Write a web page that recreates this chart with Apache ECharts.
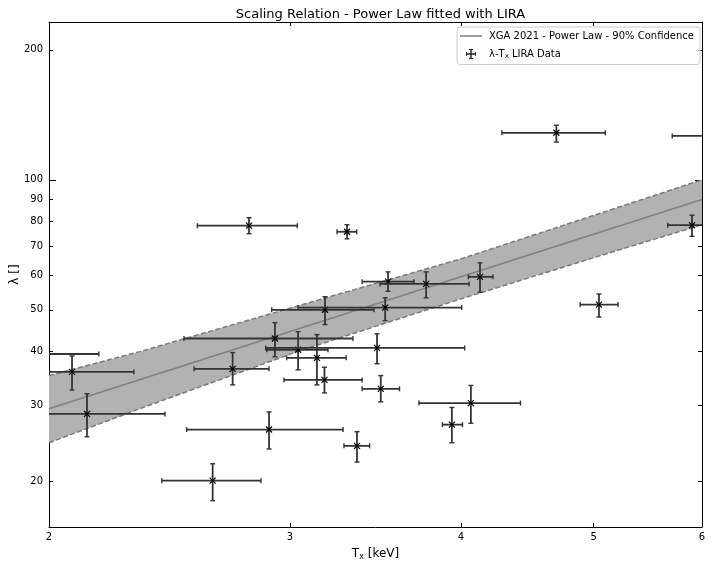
<!DOCTYPE html>
<html>
<head>
<meta charset="utf-8">
<script src="https://cdn.jsdelivr.net/npm/echarts/dist/echarts.min.js"></script>
<style>html,body{margin:0;padding:0;background:#fff}#c{width:712px;height:568px}</style>
</head>
<body>
<div id="c"></div>
<script>
// ---- data ----
const xTicks = [2, 3, 4, 5, 6];
const yTicks = [20, 30, 40, 50, 60, 70, 80, 90, 100, 200];
const yMajor = [100];

const fitX = [2, 6];
const fitY = [29.5, 90];

const bandX     = [2,    2.33, 3.05, 4.0,  5.14, 6];
const bandUpper = [35.2, 40.0, 51.2, 65.6, 85.1, 100];
const bandLower = [24.6, 29.5, 40.2, 53.0, 67.8, 78.7];

const ptX  = [2.079, 2.132, 1.90, 2.724, 2.634, 2.896, 2.925, 3.041, 3.139, 3.182, 3.179, 3.302, 2.80, 3.521, 3.538, 3.772, 4.13, 3.473, 3.495, 3.358, 3.939, 4.067, 5.045, 4.696, 6.2, 5.90];
const ptY  = [35.9, 28.7, 39.5, 36.5, 20.1, 26.4, 42.9, 40.4, 38.7, 50.0, 34.4, 75.8, 78.3, 50.6, 58.1, 57.4, 59.6, 40.8, 32.8, 24.2, 27.1, 30.4, 51.4, 128.5, 126.4, 78.5];
const xLo  = [1.85, 1.85, 1.62, 2.553, 2.418, 2.521, 2.51, 2.885, 2.983, 2.909, 2.97, 3.247, 2.567, 3.041, 3.387, 3.491, 4.05, 2.88, 3.387, 3.285, 3.877, 3.727, 4.888, 4.285, 5.707, 5.664];
const xHi  = [2.307, 2.431, 2.175, 2.896, 2.857, 3.28, 3.335, 3.198, 3.297, 3.455, 3.387, 3.356, 3.037, 4.005, 3.696, 4.055, 4.221, 4.025, 3.607, 3.43, 4.01, 4.421, 5.21, 5.099, 6.69, 6.14];
const yLo  = [32.6, 25.4, 36.0, 33.5, 18.07, 23.8, 38.9, 36.3, 33.5, 46.2, 32.1, 73.0, 75.0, 47.2, 55.2, 53.3, 54.9, 37.5, 30.6, 22.2, 24.6, 27.3, 48.1, 122.3, 120.0, 74.0];
const yHi  = [39.1, 31.96, 43.0, 39.8, 22.0, 29.0, 46.7, 44.5, 43.8, 53.6, 36.8, 78.7, 81.7, 53.3, 61.2, 61.2, 64.2, 44.0, 35.2, 26.1, 29.7, 33.4, 54.4, 133.8, 133.0, 82.8];

const fitName = 'XGA 2021 - Power Law - 90% Confidence';
const dataName = 'λ-Tx LIRA Data';

// ---- chart ----
const chart = echarts.init(document.getElementById('c'), null, {renderer: 'canvas'});
const FONT = 'DejaVu Sans';
const X_MIN = 2, X_MAX = 6, Y_MIN = 15.7, Y_MAX = 232;

function xAxisCfg(pos, labels) {
  return {
    type: 'log', logBase: 10, min: X_MIN, max: X_MAX, position: pos,
    axisLine: {show: true, onZero: false, lineStyle: {color: '#000', width: 1}},
    axisTick: {show: true, inside: true, length: 4, customValues: xTicks, lineStyle: {color: '#000', width: 1}},
    axisLabel: {show: labels, customValues: xTicks, color: '#000', fontSize: 10, fontFamily: FONT, margin: 5},
    splitLine: {show: false}, minorTick: {show: false}, minorSplitLine: {show: false}
  };
}
function yAxisCfg(pos, ticks, len, labels, line) {
  return {
    type: 'log', logBase: 10, min: Y_MIN, max: Y_MAX, position: pos,
    axisLine: {show: line, onZero: false, lineStyle: {color: '#000', width: 1}},
    axisTick: {show: true, inside: true, length: len, customValues: ticks, lineStyle: {color: '#000', width: 1}},
    axisLabel: {show: labels, customValues: ticks, color: '#000', fontSize: 10, fontFamily: FONT, margin: 6},
    splitLine: {show: false}, minorTick: {show: false}, minorSplitLine: {show: false}
  };
}

const xMain = xAxisCfg('bottom', true);
xMain.name = '{a|T}{s|x}{a| [keV]}';
xMain.nameLocation = 'middle';
xMain.nameGap = 20;
xMain.nameTextStyle = {color: '#000', fontSize: 12, fontFamily: FONT,
  rich: {a: {fontSize: 12, fontFamily: FONT, color: '#000'}, s: {fontSize: 8, fontFamily: FONT, color: '#000', padding: [6, 0, 0, 0]}}};

const yMain = yAxisCfg('left', yTicks, 4, true, true);
yMain.name = 'λ []';
yMain.nameLocation = 'middle';
yMain.nameGap = 28;
yMain.nameMoveOverlap = false;
yMain.nameTextStyle = {color: '#000', fontSize: 12, fontFamily: FONT};

const errData = ptX.map((x, i) => [x, ptY[i], xLo[i], xHi[i], yLo[i], yHi[i]]);

const option = {
  animation: false,
  backgroundColor: '#fff',
  textStyle: {fontFamily: FONT},
  title: {
    text: 'Scaling Relation - Power Law fitted with LIRA',
    left: 375.5, top: 3, textAlign: 'center',
    textStyle: {fontSize: 13, fontWeight: 'normal', color: '#000', fontFamily: FONT}
  },
  legend: {
    left: 457, top: 27, orient: 'vertical', align: 'left',
    padding: [4, 6, 5, 3], itemGap: 8, itemWidth: 22, itemHeight: 10,
    backgroundColor: 'rgba(255,255,255,0.8)', borderColor: '#cccccc', borderWidth: 1, borderRadius: 3,
    symbolKeepAspect: true,
    textStyle: {fontSize: 10, color: '#000', fontFamily: FONT, padding: [0, 0, 0, 2],
      rich: {a: {fontSize: 10, color: '#000', fontFamily: FONT}, s: {fontSize: 7, color: '#000', fontFamily: FONT, padding: [4, 0, 0, 0]}}},
    formatter: function (n) { return n === dataName ? '{a|λ-T}{s|x}{a| LIRA Data}' : '{a|' + n + '}'; },
    data: [
      {name: fitName, icon: 'path://M0,0H22V1.6H0Z'},
      {name: dataName, icon: 'path://M0,4.3H10V5.7H0Z M0,3H0.9V7H0Z M9.1,3H10V7H9.1Z M4.3,0H5.7V10H4.3Z M3,0H7V0.9H3Z M3,9.1H7V10H3Z'}
    ]
  },
  grid: {left: 49, right: 10, top: 22, bottom: 41, containLabel: false, outerBoundsMode: 'none'},
  xAxis: [xMain, xAxisCfg('top', false)],
  yAxis: [yMain, yAxisCfg('left', yMajor, 7, false, false), yAxisCfg('right', yTicks, 4, false, true), yAxisCfg('right', yMajor, 7, false, false)],
  series: [
    {
      type: 'custom', name: 'band', silent: true, clip: true, z: 1,
      data: [[bandX[0], bandUpper[0]]],
      renderItem: function (params, api) {
        const pts = [];
        for (let i = 0; i < bandX.length; i++) pts.push(api.coord([bandX[i], bandUpper[i]]));
        for (let i = bandX.length - 1; i >= 0; i--) pts.push(api.coord([bandX[i], bandLower[i]]));
        return {type: 'polygon', shape: {points: pts}, style: {fill: '#b2b2b2', stroke: null}};
      }
    },
    {
      type: 'line', name: 'upper', silent: true, symbol: 'none', z: 2,
      data: bandX.map((x, i) => [x, bandUpper[i]]),
      lineStyle: {color: '#7a7a7a', width: 1.5, type: [5, 2.5]}
    },
    {
      type: 'line', name: 'lower', silent: true, symbol: 'none', z: 2,
      data: bandX.map((x, i) => [x, bandLower[i]]),
      lineStyle: {color: '#7a7a7a', width: 1.5, type: [5, 2.5]}
    },
    {
      type: 'line', name: fitName, silent: true, symbol: 'none', z: 3,
      data: fitX.map((x, i) => [x, fitY[i]]),
      lineStyle: {color: '#808080', width: 1.5},
      itemStyle: {color: '#808080'}
    },
    {
      type: 'custom', name: dataName, clip: true, z: 4,
      itemStyle: {color: '#222'},
      dimensions: ['x', 'y', 'xlo', 'xhi', 'ylo', 'yhi'],
      encode: {x: [0, 2, 3], y: [1, 4, 5]},
      data: errData,
      renderItem: function (params, api) {
        const x = api.value(0), y = api.value(1);
        const c = api.coord([x, y]);
        const l = api.coord([api.value(2), y]);
        const r = api.coord([api.value(3), y]);
        const b = api.coord([x, api.value(4)]);
        const t = api.coord([x, api.value(5)]);
        const cap = 2.5, m = 3;
        const st = {stroke: '#333', lineWidth: 1.8};
        const cs = {stroke: '#333', lineWidth: 1.4};
        const ms = {stroke: '#000', lineWidth: 1.2};
        return {type: 'group', children: [
          {type: 'line', shape: {x1: l[0], y1: c[1], x2: r[0], y2: c[1]}, style: st},
          {type: 'line', shape: {x1: l[0], y1: c[1] - cap, x2: l[0], y2: c[1] + cap}, style: cs},
          {type: 'line', shape: {x1: r[0], y1: c[1] - cap, x2: r[0], y2: c[1] + cap}, style: cs},
          {type: 'line', shape: {x1: c[0], y1: b[1], x2: c[0], y2: t[1]}, style: st},
          {type: 'line', shape: {x1: c[0] - cap, y1: b[1], x2: c[0] + cap, y2: b[1]}, style: cs},
          {type: 'line', shape: {x1: c[0] - cap, y1: t[1], x2: c[0] + cap, y2: t[1]}, style: cs},
          {type: 'line', shape: {x1: c[0] - m, y1: c[1] - m, x2: c[0] + m, y2: c[1] + m}, style: ms},
          {type: 'line', shape: {x1: c[0] - m, y1: c[1] + m, x2: c[0] + m, y2: c[1] - m}, style: ms}
        ]};
      }
    }
  ]
};
chart.setOption(option);
</script>
</body>
</html>
